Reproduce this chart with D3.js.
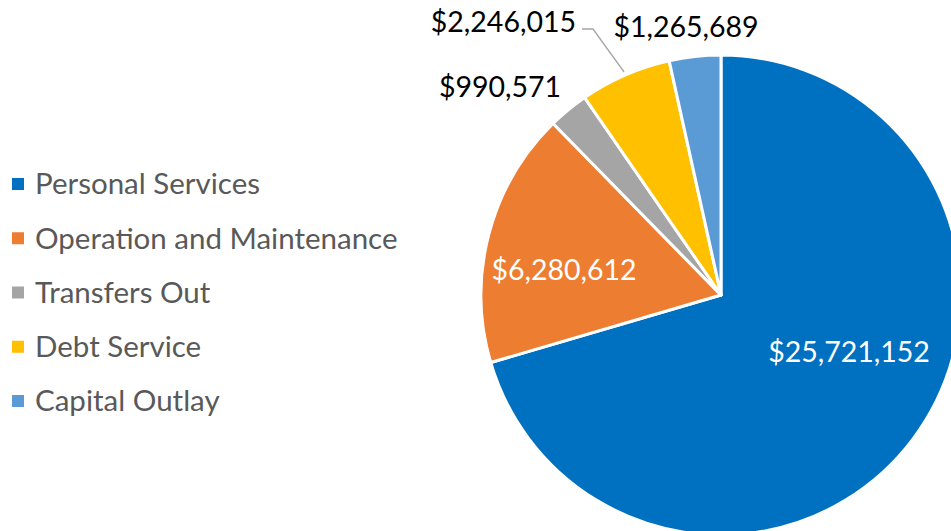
<!DOCTYPE html>
<html>
<head>
<meta charset="utf-8">
<script src="https://cdn.jsdelivr.net/npm/d3@7"></script>
<style>
  body { margin: 0; background: #fff; }
  svg { display: block; font-family: Lato, "Open Sans", sans-serif; }
</style>
</head>
<body>
<div id="chart"></div>
<script>
// Chart data
const categories = ["Personal Services", "Operation and Maintenance", "Transfers Out", "Debt Service", "Capital Outlay"];
const amounts = [25721152, 6280612, 990571, 2246015, 1265689];
const colors = ["#0070C0", "#ED7D31", "#A5A5A5", "#FFC000", "#5B9BD5"];

// where each value label goes, relative to the pie center
const labelLayout = [
    { x: 128, y: 57, anchor: "middle", fill: "#fff" },
    { x: -157, y: -25, anchor: "middle", fill: "#fff" },
    { x: -221, y: -208, anchor: "middle", fill: "#000" },
    { x: -145, y: -273, anchor: "end", fill: "#000", leader: true },
    { x: -35, y: -268, anchor: "middle", fill: "#000" }
];

const width = 951, height = 531;
const cx = 721, cy = 295, radius = 240;

const svg = d3.select("#chart")
    .append("svg")
    .attr("width", width)
    .attr("height", height);

const data = categories.map((c, i) => ({ name: c, value: amounts[i], color: colors[i] }));

const pie = d3.pie()
    .value(d => d.value)
    .sort(null);

const arc = d3.arc()
    .innerRadius(0)
    .outerRadius(radius);

const arcs = pie(data);
const fmt = d3.format("$,");

const g = svg.append("g")
    .attr("transform", `translate(${cx},${cy})`);

g.selectAll("path")
    .data(arcs)
    .enter()
    .append("path")
    .attr("d", arc)
    .attr("fill", d => d.data.color)
    .attr("stroke", "#fff")
    .attr("stroke-width", 3)
    .attr("stroke-linejoin", "round");

// Leader line for the label that sits off to the side
arcs.forEach((d, i) => {
    const lay = labelLayout[i];
    if (!lay.leader) return;
    const mid = (d.startAngle + d.endAngle) / 2;
    const ex = Math.sin(mid) * radius, ey = -Math.cos(mid) * radius;
    g.append("polyline")
        .attr("points", [[lay.x + 6, lay.y + 7], [lay.x + 17, lay.y + 7], [ex - 1, ey - 3]].map(p => p.join(",")).join(" "))
        .attr("fill", "none")
        .attr("stroke", "#A6A6A6")
        .attr("stroke-width", 1.3);
});

// Value labels
g.selectAll("text.value")
    .data(arcs)
    .enter()
    .append("text")
    .attr("class", "value")
    .attr("x", (d, i) => labelLayout[i].x)
    .attr("y", (d, i) => labelLayout[i].y)
    .attr("dy", "0.35em")
    .attr("text-anchor", (d, i) => labelLayout[i].anchor)
    .attr("fill", (d, i) => labelLayout[i].fill)
    .style("font-size", "28.5px")
    .text(d => fmt(d.data.value));

// Legend
const legendY = d3.scalePoint()
    .domain(categories)
    .range([184, 401]);

const legend = svg.append("g");

legend.selectAll("rect")
    .data(data)
    .enter()
    .append("rect")
    .attr("x", 12)
    .attr("y", d => legendY(d.name) - 6)
    .attr("width", 12)
    .attr("height", 12)
    .attr("fill", d => d.color);

legend.selectAll("text")
    .data(data)
    .enter()
    .append("text")
    .attr("x", 35)
    .attr("y", d => legendY(d.name))
    .attr("dy", "0.35em")
    .attr("fill", "#595959")
    .style("font-size", "29.5px")
    .text(d => d.name);
</script>
</body>
</html>
